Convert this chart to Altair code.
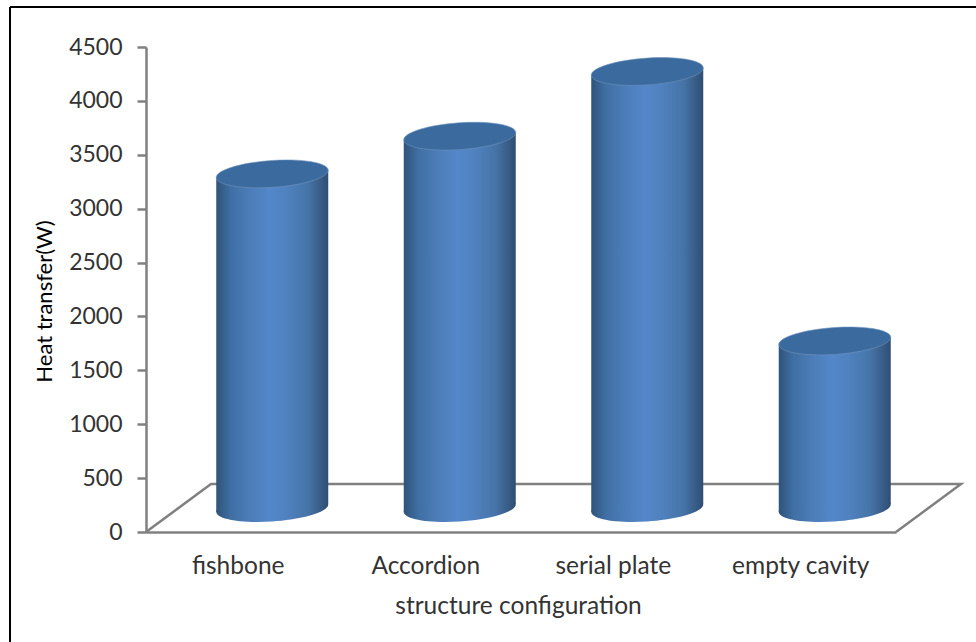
import json
import altair as alt
import pandas as pd

# Heat transfer per structure configuration
categories = ["fishbone", "Accordion", "serial plate", "empty cavity"]
heat_transfer = [3100, 3450, 4050, 1550]
y_ticks = [0, 500, 1000, 1500, 2000, 2500, 3000, 3500, 4000, 4500]

# Fake-perspective floor depth, in data units of each axis
DEPTH_X = 65 / 187.5
DEPTH_Y = 445
HALF_BAR = 0.2987
TILT = 37          # rise of the cylinder ends from left to right
ELLIPSE_Y = 0.24   # minor/major ratio of the end caps
ELLIPSE_K = -0.065 # skew of the end caps

GREY = "#808080"
TEXT = "#333333"
FONT = "Lato"

shade = alt.Gradient(
    gradient="linear", x1=0, x2=1, y1=0, y2=0,
    stops=[
        alt.GradientStop(color="#305379", offset=0),
        alt.GradientStop(color="#3f6fa3", offset=0.13),
        alt.GradientStop(color="#4c7db8", offset=0.3),
        alt.GradientStop(color="#5487ca", offset=0.48),
        alt.GradientStop(color="#5082c0", offset=0.62),
        alt.GradientStop(color="#4674a8", offset=0.82),
        alt.GradientStop(color="#2f4e72", offset=1),
    ],
)


def cap_path():
    """Skewed unit ellipse as an SVG path for a point mark's shape."""
    c = 0.5523
    def p(u, v):
        return f"{u:.4f},{ELLIPSE_K * u + ELLIPSE_Y * v:.4f}"
    return (
        f"M{p(1, 0)}"
        f"C{p(1, c)} {p(c, 1)} {p(0, 1)}"
        f"C{p(-c, 1)} {p(-1, c)} {p(-1, 0)}"
        f"C{p(-1, -c)} {p(-c, -1)} {p(0, -1)}"
        f"C{p(c, -1)} {p(1, -c)} {p(1, 0)}Z"
    )


caps = pd.DataFrame({"category": categories, "value": heat_transfer})
caps["cx"] = [i + 0.5 + DEPTH_X / 2 for i in range(len(categories))]
caps["base"] = DEPTH_Y / 2
caps["top"] = caps["base"] + caps["value"]

rows = []
for _, r in caps.iterrows():
    for side in (-1, 1):
        rows.append({
            "category": r["category"],
            "x": r["cx"] + side * HALF_BAR,
            "low": r["base"] + side * TILT,
            "high": r["top"] + side * TILT,
        })
bodies = pd.DataFrame(rows)

floor = pd.DataFrame({
    "x": [0, DEPTH_X, 4 + DEPTH_X, 4],
    "y": [0, DEPTH_Y, DEPTH_Y, 0],
    "order": [0, 1, 2, 3],
})

x_scale = alt.Scale(domain=[0, 4], nice=False, zero=False)
y_scale = alt.Scale(domain=[0, 4500], nice=False)

x_enc = alt.X(
    "x:Q", scale=x_scale,
    axis=alt.Axis(
        values=[i + 0.5 for i in range(len(categories))],
        labelExpr=f"{json.dumps(categories)}[floor(datum.value)]",
        ticks=False, grid=False, domainColor=GREY, domainWidth=2.5,
        labelFont=FONT, labelFontSize=24.5, labelColor=TEXT, labelPadding=22,
        labelOverlap=False, labelOffset=-2,
        title="structure configuration", titleFont=FONT, titleFontSize=24.5,
        titleFontWeight="normal", titleColor=TEXT, titleX=372, titleY=74,
        titleAlign="center", titleBaseline="middle",
    ),
)
y_enc = alt.Y(
    "y:Q", scale=y_scale,
    axis=alt.Axis(
        values=y_ticks, format="d", grid=False, domainColor=GREY, domainWidth=2.5,
        tickColor=GREY, tickWidth=2.5, tickSize=9, labelFont=FONT,
        labelFontSize=23, labelColor=TEXT, labelPadding=15,
        title="Heat transfer(W)", titleFont=FONT, titleFontSize=22,
        titleFontWeight="normal", titleColor="#000000", titleX=-102, titleY=254,
        titleAlign="center", titleBaseline="middle", titleAngle=-90,
    ),
)

floor_lines = alt.Chart(floor).mark_line(color=GREY, strokeWidth=2.5).encode(
    x=x_enc, y=y_enc, order="order:O"
)

bottom_caps = alt.Chart(caps).mark_point(
    filled=True, fill=shade, shape=cap_path(), size=12544, opacity=1, strokeWidth=0
).encode(x=alt.X("cx:Q", scale=x_scale), y=alt.Y("base:Q", scale=y_scale))

body = alt.Chart(bodies).mark_area(fill=shade, opacity=1).encode(
    x=alt.X("x:Q", scale=x_scale),
    y=alt.Y("high:Q", scale=y_scale),
    y2="low:Q",
    detail="category:N",
)

top_caps = alt.Chart(caps).mark_point(
    filled=True, fill="#3b6a9e", stroke="#6f93bd", strokeWidth=0.6,
    shape=cap_path(), size=12544, opacity=1,
).encode(x=alt.X("cx:Q", scale=x_scale), y=alt.Y("top:Q", scale=y_scale))

# Black frame around the figure: top and left edges
frame_top = alt.Chart(pd.DataFrame({"k": [0]})).mark_rule(color="#000000", strokeWidth=2).encode(
    x=alt.value(-136), x2=alt.value(830), y=alt.value(-40)
)
frame_left = alt.Chart(pd.DataFrame({"k": [0]})).mark_rule(color="#000000", strokeWidth=2).encode(
    x=alt.value(-136), y=alt.value(-40), y2=alt.value(595)
)

chart = (
    alt.layer(floor_lines, bottom_caps, body, top_caps, frame_top, frame_left)
    .properties(
        width=750, height=485,
        padding={"left": 146, "top": 47, "right": 80, "bottom": 110},
        autosize=alt.AutoSizeParams(type="none"),
        background="#ffffff",
    )
    .configure_view(stroke=None)
)

chart.save("out.html", embed_options={"renderer": "svg", "actions": False})
